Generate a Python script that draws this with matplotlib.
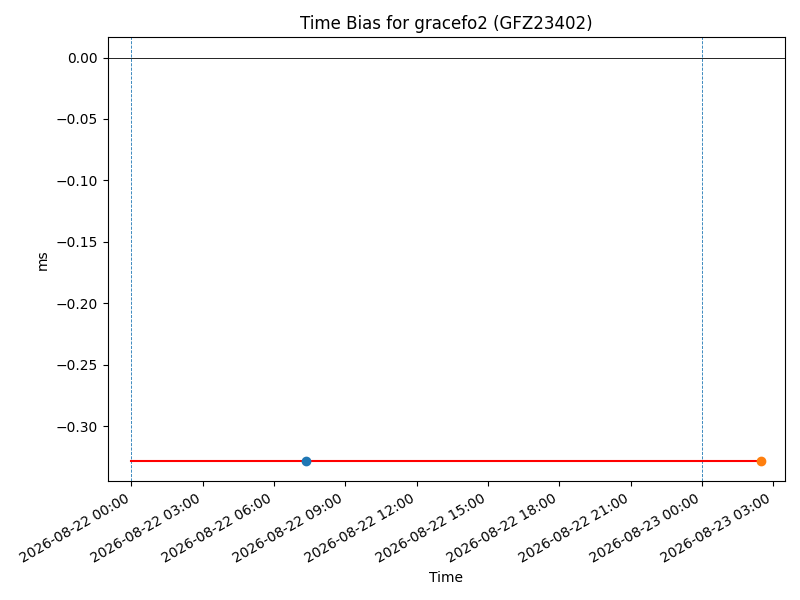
import matplotlib
matplotlib.use("Agg")
import matplotlib.pyplot as plt
import matplotlib.dates as mdates
from datetime import datetime, timedelta

# Data
line_times = ["2026-08-22 00:00", "2026-08-23 02:30"]
line_values = [-0.3284, -0.3284]
point1_time = "2026-08-22 07:20"
point1_value = -0.3284
point2_time = "2026-08-23 02:30"
point2_value = -0.3284
day_boundaries = ["2026-08-22 00:00", "2026-08-23 00:00"]

fmt = "%Y-%m-%d %H:%M"
lt = [datetime.strptime(t, fmt) for t in line_times]
p1 = datetime.strptime(point1_time, fmt)
p2 = datetime.strptime(point2_time, fmt)
db = [datetime.strptime(t, fmt) for t in day_boundaries]

fig, ax = plt.subplots(figsize=(8, 6), dpi=100)
ax.axhline(0, color="black", linewidth=0.6)
for d in db:
    ax.axvline(d, color="C0", linestyle="--", linewidth=0.6)
ax.plot(lt, line_values, color="red", linewidth=1.5)
ax.plot([p1], [point1_value], "o", color="C0")
ax.plot([p2], [point2_value], "o", color="C1")

ax.set_xlim(lt[0] - timedelta(hours=1), lt[1] + timedelta(hours=1))
ax.xaxis.set_major_locator(mdates.HourLocator(byhour=range(0, 24, 3)))
ax.xaxis.set_major_formatter(mdates.DateFormatter("%Y-%m-%d %H:%M"))
fig.autofmt_xdate()

ax.set_title("Time Bias for gracefo2 (GFZ23402)")
ax.set_xlabel("Time")
ax.set_ylabel("ms")
fig.tight_layout()
fig.savefig("out.png")
